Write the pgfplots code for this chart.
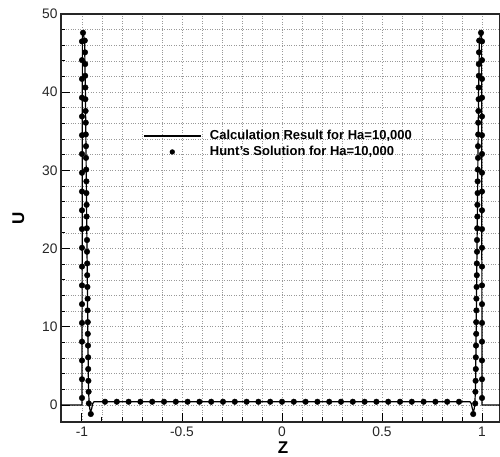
\documentclass[border=0pt]{standalone}
\usepackage{fontspec}
\setmainfont{Liberation Sans}
\usepackage{pgfplots}
\pgfplotsset{compat=1.18}
\begin{document}
\begin{tikzpicture}
\path[use as bounding box] (-61pt,-35pt) rectangle (439pt,422pt);
\begin{axis}[
  scale only axis,
  width=439pt, height=408pt,
  xmin=-1.105, xmax=1.09,
  ymin=-2.17, ymax=50,
  xtick={-1,-0.5,0,0.5,1},
  xticklabels={-1,-0.5,0,0.5,1},
  ytick={0,10,20,30,40,50},
  minor x tick num=4,
  minor y tick num=4,
  xtick pos=bottom, ytick pos=left,
  tick align=inside,
  major tick length=9pt,
  minor tick length=4.5pt,
  every tick/.style={black, line width=1pt},
  grid=both,
  grid style={dotted, gray!80, line width=0.7pt},
  major grid style={dotted, gray!80, line width=0.7pt},
  axis line style={black!85, line width=1.6pt},
  /pgf/number format/assume math mode=true,
  tick label style={font=\fontsize{13.8}{14}\selectfont, black!85},
  xticklabel style={yshift=-1pt},
  xlabel={\textbf{Z}},
  ylabel={\textbf{U}},
  xlabel style={font=\fontsize{17}{18}\selectfont, at={(axis description cs:0.5057,-0.0637)}, anchor=center},
  ylabel style={font=\fontsize{17}{18}\selectfont, at={(axis description cs:-0.0970,0.5)}, anchor=center},
  legend style={draw=none, fill=none, at={(axis description cs:0.1868,0.6814)}, anchor=west,
    font=\bfseries\fontsize{13}{13.5}\selectfont, row sep=1pt, column sep=6.5pt, inner sep=0pt},
  legend cell align=left,
]
\addplot[black, line width=1.2pt,
  legend image code/.code={\draw[black, line width=1.2pt] (0pt,0pt) -- (57pt,0pt);}]
table {
x y
-1.105 0
-1.0 0
-0.998 47.5
-0.995 47.7
-0.987 46.6
-0.983 40
-0.979 30
-0.975 20
-0.971 10
-0.968 3
-0.965 0.5
-0.961 -0.5
-0.957 -0.9
-0.952 -0.5
-0.946 0.2
-0.94 0.42
0.94 0.42
0.946 0.2
0.952 -0.5
0.957 -0.9
0.961 -0.5
0.965 0.5
0.968 3
0.971 10
0.975 20
0.979 30
0.983 40
0.987 46.6
0.995 47.7
0.998 47.5
1.0 0
1.09 0
};
\addlegendentry{Calculation Result for Ha=10,000}
\addplot[only marks, mark=*, mark size=2.8pt, black,
  legend image code/.code={\fill[black] (28.5pt,0pt) circle (2.4pt);}]
table {
x y
-1.0 0.9
-1.0 3.3
-1.0 5.7
-1.0 8.1
-1.0 10.5
-1.0 12.9
-1.0 15.3
-1.0 17.7
-1.0 20.1
-1.0 22.5
-1.0 24.9
-1.0 27.3
-1.0 29.7
-1.0 32.1
-1.0 34.5
-1.0 36.9
-1.0 39.3
-1.0 41.7
-1.0 44.1
-1.0 46.5
-0.995 47.6
-0.986 46.6
-0.985 45.1
-0.984 43.6
-0.984 42.1
-0.983 40.6
-0.983 39.1
-0.982 37.6
-0.981 36.1
-0.981 34.6
-0.980 33.1
-0.980 31.6
-0.979 30.1
-0.978 28.6
-0.978 27.1
-0.977 25.6
-0.977 24.1
-0.976 22.6
-0.975 21.1
-0.975 19.6
-0.974 18.1
-0.974 16.6
-0.973 15.1
-0.972 13.6
-0.972 12.1
-0.971 10.6
-0.971 9.1
-0.970 7.6
-0.969 6.1
-0.969 4.6
-0.968 3.1
-0.967 1.7
-0.966 0.2
-0.956 -1.15
-0.885 0.42
-0.826 0.42
-0.767 0.42
-0.708 0.42
-0.649 0.42
-0.590 0.42
-0.531 0.42
-0.472 0.42
-0.413 0.42
-0.354 0.42
-0.295 0.42
-0.236 0.42
-0.177 0.42
-0.118 0.42
-0.059 0.42
0 0.42
0.059 0.42
0.118 0.42
0.177 0.42
0.236 0.42
0.295 0.42
0.354 0.42
0.413 0.42
0.472 0.42
0.531 0.42
0.590 0.42
0.649 0.42
0.708 0.42
0.767 0.42
0.826 0.42
0.885 0.42
0.956 -1.15
0.966 0.2
0.967 1.7
0.968 3.1
0.969 4.6
0.969 6.1
0.970 7.6
0.971 9.1
0.971 10.6
0.972 12.1
0.972 13.6
0.973 15.1
0.974 16.6
0.974 18.1
0.975 19.6
0.975 21.1
0.976 22.6
0.977 24.1
0.977 25.6
0.978 27.1
0.978 28.6
0.979 30.1
0.980 31.6
0.980 33.1
0.981 34.6
0.981 36.1
0.982 37.6
0.983 39.1
0.983 40.6
0.984 42.1
0.984 43.6
0.985 45.1
0.986 46.6
0.995 47.6
1.0 46.5
1.0 44.1
1.0 41.7
1.0 39.3
1.0 36.9
1.0 34.5
1.0 32.1
1.0 29.7
1.0 27.3
1.0 24.9
1.0 22.5
1.0 20.1
1.0 17.7
1.0 15.3
1.0 12.9
1.0 10.5
1.0 8.1
1.0 5.7
1.0 3.3
1.0 0.9
};
\addlegendentry{Hunt's Solution for Ha=10,000}
\end{axis}
\end{tikzpicture}
\end{document}
